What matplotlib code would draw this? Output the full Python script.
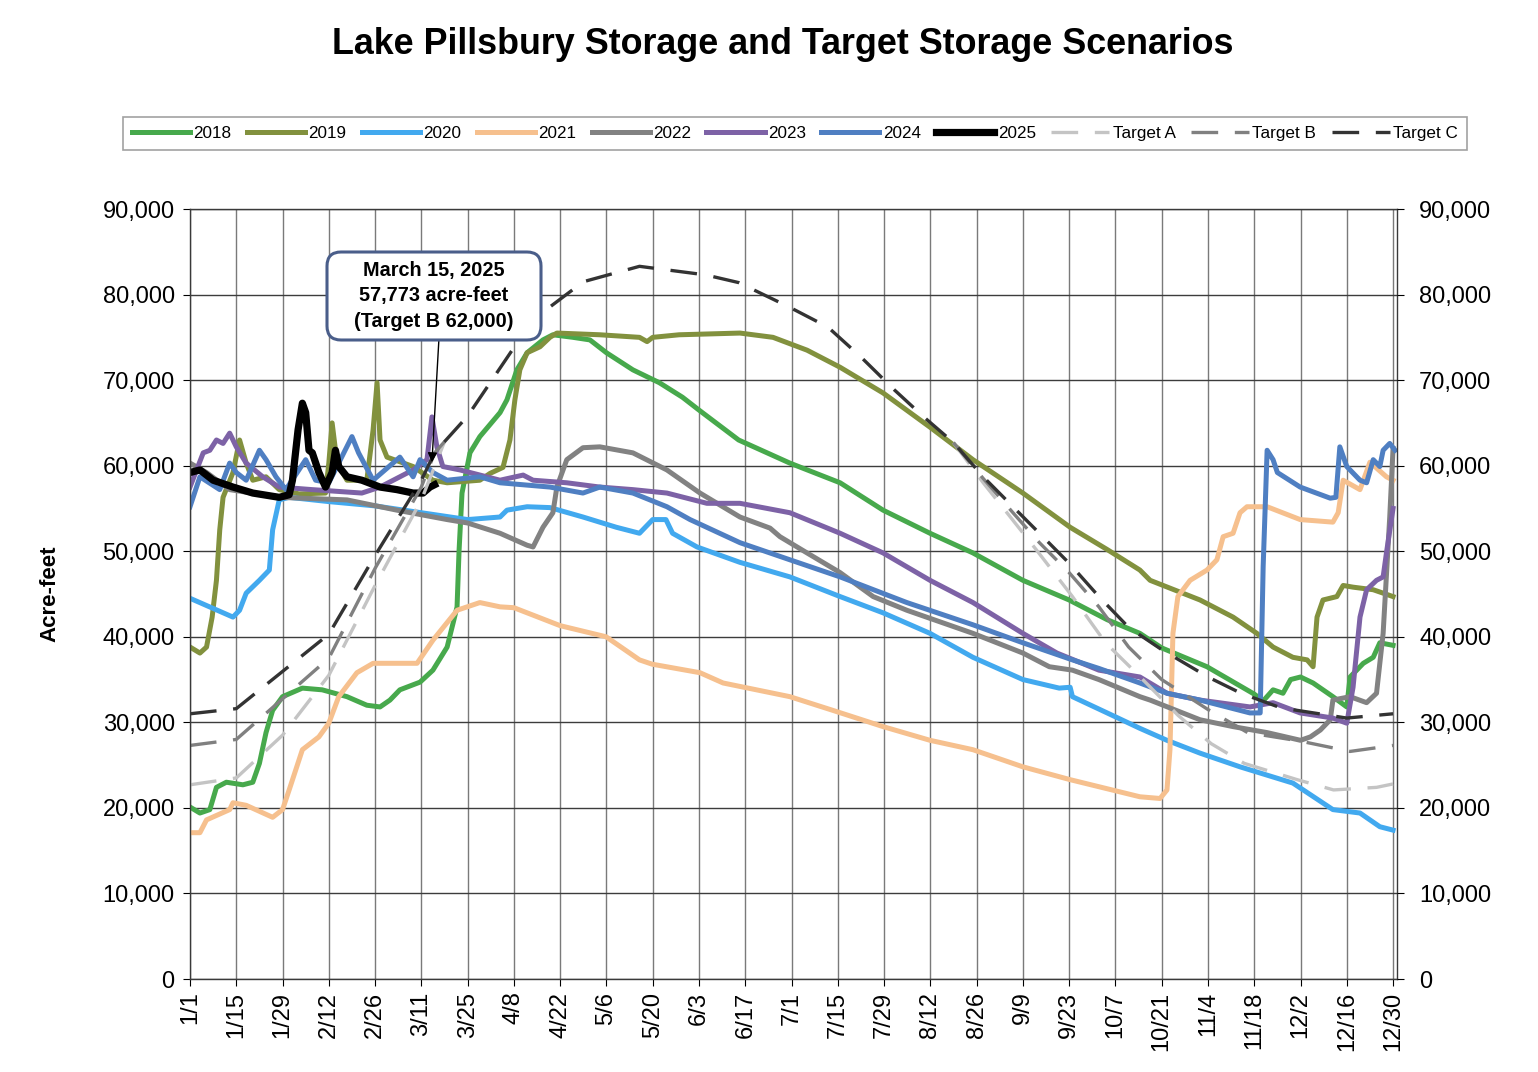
import numpy as np
import matplotlib.pyplot as plt
from matplotlib.patches import FancyBboxPatch
from matplotlib.transforms import IdentityTransform

plt.rcParams['font.family'] = ['Liberation Sans', 'DejaVu Sans']

# x axis: day of year (leap-year calendar, 1/1 = day 1, 12/30 = day 365)
tick_days = [1, 15, 29, 43, 57, 71, 85, 99, 113, 127, 141, 155, 169, 183,
             197, 211, 225, 239, 253, 267, 281, 295, 309, 323, 337, 351, 365]
tick_labels = ['1/1', '1/15', '1/29', '2/12', '2/26', '3/11', '3/25', '4/8',
               '4/22', '5/6', '5/20', '6/3', '6/17', '7/1', '7/15', '7/29',
               '8/12', '8/26', '9/9', '9/23', '10/7', '10/21', '11/4',
               '11/18', '12/2', '12/16', '12/30']

# storage readings (acre-feet)
d2018 = [1, 4, 7, 9, 12, 17, 20, 22, 24, 26, 29, 35, 41, 48.5, 54.5, 58.5, 61.5,
         64.5, 70.6, 74.5, 78.8, 80.6, 81.8, 82.4, 83.3, 85.7, 88.7, 94.8, 96.9,
         99.9, 103, 107.8, 110.8, 116.9, 122, 127, 135, 143, 150, 155, 167,
         182.5, 197.7, 210.7, 224.9, 237.9, 253, 267, 278.5, 288.4, 295, 308.7,
         323, 325.7, 328.7, 331.7, 334, 337, 340.8, 346.8, 351, 352, 356, 359,
         361, 365]
v2018 = [20100, 19400, 19800, 22400, 23000, 22700, 23000, 25200, 28800, 31400,
         33000, 34000, 33800, 33000, 32000, 31800, 32600, 33800, 34700, 36100,
         38800, 41600, 43500, 50000, 56800, 61500, 63400, 66200, 67700, 71200,
         73200, 74700, 75300, 75000, 74700, 73200, 71200, 69700, 68000, 66500,
         63000, 60300, 58000, 54800, 52100, 49800, 46600, 44300, 42000, 40400,
         38700, 36500, 33300, 32500, 33800, 33400, 35000, 35300, 34600, 33000,
         31800, 35300, 36900, 37600, 39300, 39000]

d2019 = [1, 4, 6, 7.7, 9, 10, 11, 14, 16, 18, 20, 24, 28, 34, 42, 43, 44, 45.5,
         48.5, 54.5, 56.4, 57.6, 58.5, 60.6, 68.5, 74.5, 78.8, 88.7, 91.8, 95.7,
         97.8, 99.3, 100.8, 103, 106.9, 109.9, 112, 125, 137, 139.3, 141, 149,
         167.4, 177.4, 187.7, 197.7, 210.7, 224.9, 237.9, 253, 267.3, 278.5,
         288.4, 291.5, 306.6, 316.6, 323.8, 328.7, 334.7, 339, 340.8, 342,
         343.8, 348, 349.9, 352.9, 359, 365]
v2019 = [38800, 38100, 38800, 42300, 46600, 52500, 56300, 59200, 63000, 60300,
         58300, 58700, 57200, 56700, 56800, 60300, 65000, 60300, 58300, 58300,
         64200, 69700, 63000, 61000, 59900, 58300, 58000, 58300, 59100, 59800,
         63000, 67700, 71200, 73200, 73900, 75000, 75500, 75300, 75000, 74500,
         75000, 75300, 75500, 75000, 73500, 71500, 68500, 64500, 60700, 56800,
         52800, 50200, 47800, 46600, 44300, 42300, 40400, 38800, 37600, 37300,
         36500, 42300, 44300, 44700, 46000, 45800, 45500, 44700]

d2020 = [1, 14, 16, 18, 22, 25, 26, 28, 31, 43, 57, 71, 85, 94.8, 96.9, 103,
         109.9, 119.9, 130, 137, 141, 145, 147, 154.4, 167.4, 182.5, 197.7,
         210.7, 224.9, 237.9, 253, 264, 267.3, 268, 278.5, 288.4, 296.6, 306.6,
         318.7, 334.7, 346.8, 355, 361, 365]
v2020 = [44500, 42300, 43100, 45100, 46600, 47800, 52500, 56000, 56300, 55800,
         55300, 54500, 53700, 54000, 54800, 55200, 55100, 54000, 52800, 52100,
         53700, 53700, 52100, 50500, 48700, 47000, 44700, 42800, 40400, 37600,
         35000, 34000, 34100, 33000, 31100, 29300, 27900, 26400, 24800, 22900,
         19800, 19400, 17800, 17400]

d2021 = [2, 4, 6, 13, 14, 18, 26, 29, 31, 35, 40, 43, 46, 51.5, 56.4, 69.7,
         74.5, 81.8, 88.7, 94.8, 99, 113, 126.9, 137, 140.8, 155.3, 162.3,
         182.5, 195.5, 210.7, 224.9, 237.9, 253, 267.3, 288.4, 294.5, 296.6,
         297.5, 298.4, 299.9, 303.6, 308.7, 311.7, 313.6, 316.6, 318.7, 320.8,
         326.9, 336.9, 346.8, 348.4, 349.9, 355, 358, 363, 365]
v2021 = [17100, 17100, 18600, 19800, 20600, 20300, 18900, 19800, 22100, 26800,
         28300, 29900, 33000, 35800, 36900, 36900, 39600, 43100, 44000, 43500,
         43400, 41300, 40000, 37300, 36800, 35800, 34600, 33000, 31400, 29500,
         27900, 26800, 24800, 23300, 21300, 21100, 22100, 26800, 40400, 44700,
         46600, 47800, 49000, 51700, 52100, 54500, 55200, 55200, 53700, 53400,
         54500, 58300, 57200, 60400, 58700, 58300]

d2022 = [1, 6, 13, 28, 48.5, 63.6, 78.8, 85, 94.8, 103, 104.8, 107.8, 110.8,
         112, 115, 119.9, 125, 135, 145.3, 155.3, 167.4, 176.5, 179.5, 187.7,
         197.7, 207.7, 217.9, 237.9, 253, 261, 268, 276, 288.4, 291.5, 306.6,
         316.6, 326.9, 337, 340, 343, 346, 346.8, 352, 357, 360, 362, 364, 365]
v2022 = [60300, 59200, 57200, 56300, 56000, 54800, 53700, 53300, 52100, 50700,
         50500, 52800, 54500, 57500, 60700, 62100, 62200, 61500, 59500, 56800,
         54000, 52700, 51700, 49800, 47500, 44700, 43100, 40400, 38100, 36500,
         36100, 35000, 33000, 32600, 30300, 29500, 28800, 27900, 28300, 29100,
         30300, 32600, 33000, 32300, 33400, 40400, 54000, 62000]

d2023 = [1, 5, 7, 9, 11, 13, 15, 18, 23, 28, 38, 53, 58.5, 68.5, 72.7, 74.2,
         75.7, 77.5, 82.7, 94.8, 101.8, 104.8, 115, 125, 135, 145.3, 157.4,
         167.4, 182.5, 197.7, 210.7, 224.9, 237.9, 253, 263.3, 276, 288.4,
         296.6, 306.6, 321.7, 328.7, 336.9, 346.8, 351, 352.9, 355, 357, 360,
         362, 363, 365]
v2023 = [57500, 61500, 61800, 63000, 62600, 63800, 62200, 60300, 58700, 57500,
         57200, 56800, 57500, 59500, 60700, 65700, 62200, 59900, 59500, 58300,
         58900, 58300, 58000, 57500, 57200, 56800, 55600, 55600, 54500, 52100,
         49800, 46600, 44000, 40400, 38100, 36100, 35300, 33400, 32600, 31800,
         32300, 31100, 30500, 29900, 34100, 42300, 45500, 46600, 47000, 49800,
         55000]

d2024 = [1, 4, 10, 13, 15, 18, 22, 24, 27, 30, 36, 39, 43, 50, 52, 56.4, 62.4,
         64.5, 68.5, 70.6, 74.5, 78.8, 88.7, 94.8, 109.9, 119.9, 125, 135,
         145.3, 152.3, 167.4, 182.5, 197.7, 217.9, 237.9, 253, 268, 276, 288.4,
         296.6, 306.6, 321.7, 324.8, 325.7, 326.9, 328.7, 330, 336.9, 346,
         347.7, 348.9, 351, 355, 357, 359, 361, 362, 364, 365.6]
v2024 = [55200, 58700, 57200, 60300, 59200, 58300, 61800, 60700, 58700, 57200,
         60700, 58300, 58000, 63400, 61500, 58300, 60300, 61000, 58700, 60700,
         59200, 58300, 58700, 58000, 57500, 56800, 57500, 56800, 55200, 53700,
         51000, 49000, 47000, 44000, 41400, 39300, 37300, 36300, 34600, 33400,
         32600, 31100, 31100, 48200, 61800, 60700, 59200, 57500, 56200, 56300,
         62200, 59900, 58300, 58000, 60700, 59900, 61800, 62600, 61800]

d2025 = [1, 4, 8, 14, 20, 28, 31, 32, 33.7, 35, 36, 37, 38, 40, 42, 44, 45, 46,
         48.5, 53, 58.5, 63.6, 68.5, 71.5, 73.6, 75]
v2025 = [59200, 59500, 58300, 57500, 56800, 56300, 56600, 58300, 64200, 67300,
         66200, 61800, 61500, 59200, 57500, 59200, 61800, 59900, 58700, 58300,
         57500, 57200, 56800, 56800, 57500, 57773]

# target curves: separate start / shared middle / separate end
tmid_days = [78, 85, 99, 108, 120, 137, 157, 167, 182, 194, 204, 214, 223, 232]
tmid_vals = [62800, 65800, 73800, 78000, 81500, 83300, 82300, 81400, 78600,
             76200, 72700, 68900, 65700, 62700]

ta_start_days = [1, 15, 29, 43, 57, 71]
ta_start_vals = [22700, 23500, 28500, 35500, 46000, 56000]
ta_end_days = [241, 257, 268, 278, 288, 300, 310, 320, 336, 347, 360, 365]
ta_end_vals = [58000, 50200, 44700, 39300, 35500, 30800, 27500, 25200, 23300,
               22100, 22400, 22800]

tb_start_days = [1, 15, 43, 57, 71, 75]
tb_start_vals = [27300, 28000, 37500, 48000, 57500, 61500]
tb_end_days = [241, 250, 258, 267, 276, 285, 295, 309, 321, 337, 352, 365]
tb_end_vals = [58500, 54500, 51000, 47500, 43500, 38800, 35000, 31500, 28800,
               27800, 26600, 27300]

tc_start_days = [1, 15, 43, 57, 71, 75]
tc_start_vals = [31000, 31600, 40300, 49500, 58300, 61500]
tc_end_days = [241, 250, 258, 267, 276, 285, 295, 309, 319, 331, 351, 365]
tc_end_vals = [58700, 55200, 52100, 48600, 44700, 41100, 38500, 35300, 33400,
               31700, 30500, 31000]

fig = plt.figure(figsize=(15.38, 10.72), dpi=100)
ax = fig.add_axes([0.12354, 0.08675, 0.78479, 0.71828])

years = [
    ('2018', d2018, v2018, '#47a94c'),
    ('2019', d2019, v2019, '#82913e'),
    ('2020', d2020, v2020, '#42a9ef'),
    ('2021', d2021, v2021, '#f6c08e'),
    ('2022', d2022, v2022, '#828282'),
    ('2023', d2023, v2023, '#7d62a6'),
    ('2024', d2024, v2024, '#4f7fc2'),
]
for name, d, v, c in years:
    ax.plot(d, v, color=c, lw=3.6, label=name, solid_joinstyle='round')
ax.plot(d2025, v2025, color='black', lw=5.2, label='2025', solid_joinstyle='round')

# A and B only drawn where they leave the shared curve; C drawn over its full length
dash = (8, 5)
targets = [
    ('Target A', ta_start_days, ta_start_vals, ta_end_days, ta_end_vals, '#c4c4c4'),
    ('Target B', tb_start_days, tb_start_vals, tb_end_days, tb_end_vals, '#808080'),
]
for name, sd, sv, ed, ev, c in targets:
    ax.plot(sd + tmid_days[:1], sv + tmid_vals[:1], color=c, lw=2.4,
            dashes=dash, label=name)
    ax.plot(tmid_days[-1:] + ed, tmid_vals[-1:] + ev, color=c, lw=2.4,
            dashes=dash)
ax.plot(tc_start_days + tmid_days + tc_end_days,
        tc_start_vals + tmid_vals + tc_end_vals, color='#333333', lw=2.4,
        dashes=dash, label='Target C')

ax.set_xlim(1, 366.2)
ax.set_ylim(0, 90000)
ax.set_xticks(tick_days)
ax.set_xticklabels(tick_labels, rotation=90, fontsize=17)
yt = np.arange(0, 90001, 10000)
ax.set_yticks(yt)
ax.set_yticklabels([f'{t:,}' for t in yt], fontsize=17)
ax.tick_params(axis='x', direction='out', length=5, pad=4)
ax.tick_params(axis='y', direction='out', length=5, pad=6)
ax.grid(True, axis='x', color='#7a7a7a', lw=1.0)
ax.grid(True, axis='y', color='#3c3c3c', lw=1.0)
ax.set_axisbelow(True)
for s in ax.spines.values():
    s.set_color('#3a3a3a')
    s.set_linewidth(1.0)
ax.set_ylabel('Acre-feet', fontsize=16, fontweight='bold', labelpad=30)

ax2 = ax.twinx()
ax2.set_ylim(0, 90000)
ax2.set_yticks(yt)
ax2.set_yticklabels([f'{t:,}' for t in yt], fontsize=17)
ax2.tick_params(axis='y', direction='out', length=5, pad=11)
for s in ax2.spines.values():
    s.set_visible(False)

fig.text(0.5091, 1 - 45 / 1072, 'Lake Pillsbury Storage and Target Storage Scenarios',
         ha='center', va='center', fontsize=25.8, fontweight='bold')

h, l = ax.get_legend_handles_labels()
leg = fig.legend(h, l, loc='center', bbox_to_anchor=(795 / 1538, 1 - 133.5 / 1072),
                 ncol=11, fontsize=12.3, handlelength=3.4, handletextpad=0.2,
                 columnspacing=0.9, frameon=True, fancybox=False,
                 borderpad=0.5)
leg.get_frame().set_edgecolor('#8a8a8a')
leg.get_frame().set_linewidth(1.2)

# callout box and arrow
box = FancyBboxPatch((327, 1072 - 340), 214, 88,
                     boxstyle='round,pad=0,rounding_size=14',
                     transform=IdentityTransform(), facecolor='white',
                     edgecolor='#4a5e8a', lw=2.2, zorder=10)
fig.patches.append(box)
fig.text(434 / 1538, 1 - 296 / 1072, 'March 15, 2025\n57,773 acre-feet\n(Target B 62,000)',
         ha='center', va='center', fontsize=14.3, fontweight='bold',
         linespacing=1.45, zorder=11)
ax.annotate('', xy=(74.2, 60400), xytext=(76.3, 74700),
            arrowprops=dict(arrowstyle='-|>', color='black', lw=1.0,
                            mutation_scale=14, shrinkA=0, shrinkB=0))

fig.savefig('out.png', dpi=100)
